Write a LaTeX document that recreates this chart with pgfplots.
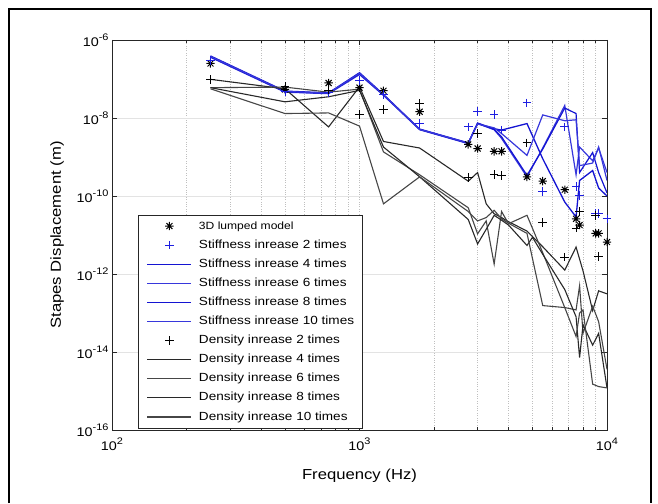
\documentclass[border=0pt]{standalone}
\usepackage{pgfplots}
\pgfplotsset{compat=1.18}
\usepackage{fontspec}
\setmainfont{Liberation Sans}[FakeStretch=1.15]
\definecolor{sbA}{RGB}{20,20,210}
\definecolor{sbB}{RGB}{55,55,220}
\definecolor{sbM}{RGB}{30,30,225}
\definecolor{dA}{RGB}{40,40,40}
\definecolor{dB}{RGB}{70,70,70}
\newcommand{\tsup}[1]{\raisebox{0.5em}{\fontsize{9.5}{10}\selectfont #1}}
\pgfdeclareplotmark{mast}{%
 \pgfpathmoveto{\pgfqpoint{0pt}{\pgfplotmarksize}}\pgfpathlineto{\pgfqpoint{0pt}{-\pgfplotmarksize}}%
 \pgfpathmoveto{\pgfqpoint{\pgfplotmarksize}{0pt}}\pgfpathlineto{\pgfqpoint{-\pgfplotmarksize}{0pt}}%
 \pgfpathmoveto{\pgfqpoint{0.707\pgfplotmarksize}{0.707\pgfplotmarksize}}\pgfpathlineto{\pgfqpoint{-0.707\pgfplotmarksize}{-0.707\pgfplotmarksize}}%
 \pgfpathmoveto{\pgfqpoint{0.707\pgfplotmarksize}{-0.707\pgfplotmarksize}}\pgfpathlineto{\pgfqpoint{-0.707\pgfplotmarksize}{0.707\pgfplotmarksize}}%
 \pgfusepathqstroke}
\pgfplotsset{
 LL/.style={legend image code/.code={\draw[color=#1, draw=#1, line width=1.1pt] (0pt,0pt) -- (44pt,0pt);}},
 ML/.style 2 args={legend image code/.code={\path[draw=none] (0pt,0pt) -- (44pt,0pt);\draw[color=#1, draw=#1, line width=1pt, mark=#2, mark size=4.2pt, mark options={draw=#1, color=#1}, only marks] plot coordinates {(22pt,0pt)};}},
}
\begin{document}
\begin{tikzpicture}
\useasboundingbox (0,0) rectangle (658pt,503pt);
\draw[line width=2.5pt] (9pt,0pt) -- (9pt,494pt) -- (651pt,494pt) -- (651pt,0pt);
\begin{axis}[
 at={(112pt,73pt)}, anchor=south west,
 scale only axis, width=495pt, height=390pt,
 xmode=log, ymode=log,
 xmin=100, xmax=10000, ymin=1e-16, ymax=1e-6,
 xtick={100,1000,10000},
 xticklabels={10\tsup{2},10\tsup{3},10\tsup{4}},
 minor xtick={200,300,400,500,600,700,800,900,2000,3000,4000,5000,6000,7000,8000,9000},
 ytick={1e-16,1e-14,1e-12,1e-10,1e-8,1e-6},
 yticklabels={10\tsup{-16},10\tsup{-14},10\tsup{-12},10\tsup{-10},10\tsup{-8},10\tsup{-6}},
 yminorticks=false,
 xmajorgrids, xminorgrids, ymajorgrids,
 x grid style={gray!50, dotted, line width=0.7pt},
 y grid style={gray!22, solid, line width=0.8pt},
 axis line style={black!85, line width=0.8pt},
 major tick length=5pt, minor tick length=3pt,
 tick style={black!85, line width=0.6pt},
 ticklabel style={font=\fontsize{12.5}{14}\selectfont},
 xticklabel style={yshift=-4pt},
 xlabel={Frequency (Hz)}, ylabel={Stapes Displacement (m)},
 label style={font=\fontsize{14.5}{16}\selectfont},
 xlabel style={at={(axis description cs:0.5,-0.118)}, anchor=center},
 ylabel style={at={(axis description cs:-0.111,0.5)}, anchor=center},
 legend cell align=left,
 legend style={at={(0.0535,0.004)}, anchor=south west, draw=black!85, line width=0.8pt, fill=white,
   font=\fontsize{11.8}{13}\selectfont, inner xsep=8pt, inner ysep=5.5pt, row sep=8.1pt,
   nodes={inner sep=0pt, text height=8.5pt, text depth=2.5pt},
   /tikz/every odd column/.append style={column sep=7pt}},
]
% 3D lumped model
\addplot[only marks, mark=mast, mark size=4.2pt, black, line width=1pt, ML={black}{mast}] coordinates {
(250,2.5e-7)(500,5.4e-8)(750,7.9e-8)(1000,6e-8)(1250,5e-8)(1750,1.45e-8)(2750,2.1e-9)(3000,1.65e-9)
(3500,1.4e-9)(3750,1.4e-9)(4750,3.1e-10)(5500,2.4e-10)(6750,1.45e-10)(7500,2.6e-11)(7750,1.8e-11)
(9000,1.1e-11)(9250,1.1e-11)(10000,6.6e-12)};
\addlegendentry{{\fontsize{10.5}{12}\selectfont 3D lumped model}}
% Stiffness 2 times
\addplot[only marks, mark=+, mark size=4.3pt, sbM, line width=1pt, ML={sbM}{+}] coordinates {
(250,3e-7)(500,4.7e-8)(750,4.5e-8)(1000,9e-8)(1250,4e-8)(1750,7.2e-9)(2750,5.9e-9)(3000,1.45e-8)
(3500,1.23e-8)(3750,4.9e-9)(4750,2.45e-8)(5500,1.3e-10)(6750,5.9e-9)(7500,1.78e-10)(7750,1.04e-10)
(9000,3.5e-11)(9250,3.5e-11)(10000,2.6e-11)};
\addlegendentry{Stiffness inrease 2 times}
% Stiffness 4 times
\addplot[sbA, line width=1.3pt, LL=sbA] coordinates {
(250,3.9e-7)(500,4.9e-8)(750,4.4e-8)(1000,1.45e-7)(1250,4.0e-8)(1750,5.2e-9)(2750,2.3e-9)(3000,7.4e-9)
(3500,5.3e-9)(3750,4.9e-9)(4750,7.2e-9)(5500,9.0e-10)(6750,7e-11)(7500,2.9e-11)(7750,2.5e-10)
(8750,4.5e-10)(9250,1.6e-10)(10000,1.0e-10)};
\addlegendentry{Stiffness inrease 4 times}
% Stiffness 6 times
\addplot[sbB, line width=1.2pt, LL=sbB] coordinates {
(250,3.6e-7)(500,4.6e-8)(750,4.2e-8)(1000,1.3e-7)(1250,3.8e-8)(1750,5.0e-9)(2750,2.2e-9)(3000,7.2e-9)
(3500,5.0e-9)(3750,3.0e-9)(4750,3.1e-10)(5500,1.7e-9)(6750,2.1e-8)(7500,3.5e-10)(7750,1.8e-9)
(8750,8e-10)(9250,1.7e-9)(10000,4e-10)};
\addlegendentry{Stiffness inrease 6 times}
% Stiffness 8 times
\addplot[sbA, line width=1.2pt, LL=sbA] coordinates {
(250,3.7e-7)(500,4.7e-8)(750,4.3e-8)(1000,1.35e-7)(1250,3.9e-8)(1750,5.1e-9)(2750,2.25e-9)(3000,7.3e-9)
(3500,5.1e-9)(3750,3.3e-9)(4750,3.4e-10)(5500,1.6e-9)(6750,1.8e-8)(7500,1.3e-8)(7750,4e-10)
(8750,1.3e-9)(9250,4e-10)(10000,1.2e-10)};
\addlegendentry{Stiffness inrease 8 times}
% Stiffness 10 times
\addplot[sbB, line width=1.2pt, LL=sbB] coordinates {
(250,3.8e-7)(500,4.8e-8)(750,4.35e-8)(1000,1.4e-7)(1250,3.95e-8)(1750,5.1e-9)(2750,2.3e-9)(3000,7.0e-9)
(3500,5.6e-9)(3750,4.0e-9)(4750,1.1e-9)(5500,1.2e-8)(6750,8.5e-9)(7500,9e-9)(7750,6e-10)
(8750,7e-10)(9250,1.8e-9)(10000,2.5e-10)};
\addlegendentry{Stiffness inrease 10 times}
% Density 2 times
\addplot[only marks, mark=+, mark size=4.3pt, black, line width=1pt, ML={black}{+}] coordinates {
(250,9.7e-8)(500,6.5e-8)(750,5.2e-8)(1000,1.25e-8)(1250,1.66e-8)(1750,2.35e-8)(2750,3e-10)(3000,4e-9)
(3500,3.6e-10)(3750,3.4e-10)(4750,2.3e-9)(5500,2.1e-11)(6750,2.7e-12)(7500,1.5e-11)(7750,4e-11)
(9000,3.2e-11)(9250,2.8e-12)};
\addlegendentry{Density inrease 2 times}
% Density 4 times
\addplot[dA, line width=1.1pt, LL=dA] coordinates {
(250,9.8e-8)(500,5.6e-8)(750,5.9e-9)(1000,6.3e-8)(1250,2.5e-9)(1750,1.7e-9)(2750,2.4e-10)(3000,4.0e-10)
(3250,6.3e-11)(3500,3.5e-11)(3750,2.8e-11)(4000,2.2e-11)(4750,1.26e-11)(5500,5e-12)(6750,1.26e-12)
(7500,4.9e-12)(8000,1.2e-12)(8750,1.15e-13)(9250,3.7e-13)(10000,3.1e-13)};
\addlegendentry{Density inrease 4 times}
% Density 6 times
\addplot[dB, line width=1.1pt, LL=dB] coordinates {
(250,6.0e-8)(500,6.2e-8)(750,4.6e-8)(1000,5.5e-8)(1250,1.35e-9)(1750,3.5e-10)(2750,5e-11)(3000,1.07e-11)
(3250,2.3e-11)(3500,1.8e-12)(3750,4.0e-11)(4000,1.95e-11)(4750,3.2e-11)(5500,3.5e-12)(6750,1.38e-13)
(7500,1.2e-13)(7750,5e-13)(8000,3e-14)(8750,1.5e-13)(9250,6e-14)(10000,3.6e-15)};
\addlegendentry{Density inrease 6 times}
% Density 8 times
\addplot[dA, line width=1.1pt, LL=dA] coordinates {
(250,6.0e-8)(500,2.6e-8)(750,3.5e-8)(1000,5.1e-8)(1250,1.8e-9)(1750,3.1e-10)(2750,2.5e-11)(3000,5.9e-12)
(3250,1.4e-11)(3500,3.2e-11)(3750,2.4e-11)(4000,1.8e-11)(4750,5.4e-12)(5000,8.7e-12)(5500,3.2e-12)
(6750,4e-13)(7500,8e-14)(7750,7.2e-15)(8000,5e-14)(8750,1.5e-14)(9250,3e-14)(10000,1.2e-15)};
\addlegendentry{Density inrease 8 times}
% Density 10 times
\addplot[dB, line width=1.1pt, LL=dB] coordinates {
(250,5.6e-8)(500,1.3e-8)(750,1.35e-8)(1000,6.2e-9)(1250,6.3e-11)(1750,3.1e-10)(2750,4e-11)(3000,2.3e-11)
(3250,2.8e-11)(3500,4.3e-11)(3750,2.6e-11)(4000,2.0e-11)(4750,1.1e-11)(5500,1.55e-13)(6750,1.38e-13)
(7500,2.5e-14)(7750,1.0e-13)(8000,1.2e-13)(8750,1.5e-15)(9250,1.3e-15)(10000,1.2e-15)};
\addlegendentry{Density inrease 10 times}
\end{axis}
\end{tikzpicture}
\end{document}
